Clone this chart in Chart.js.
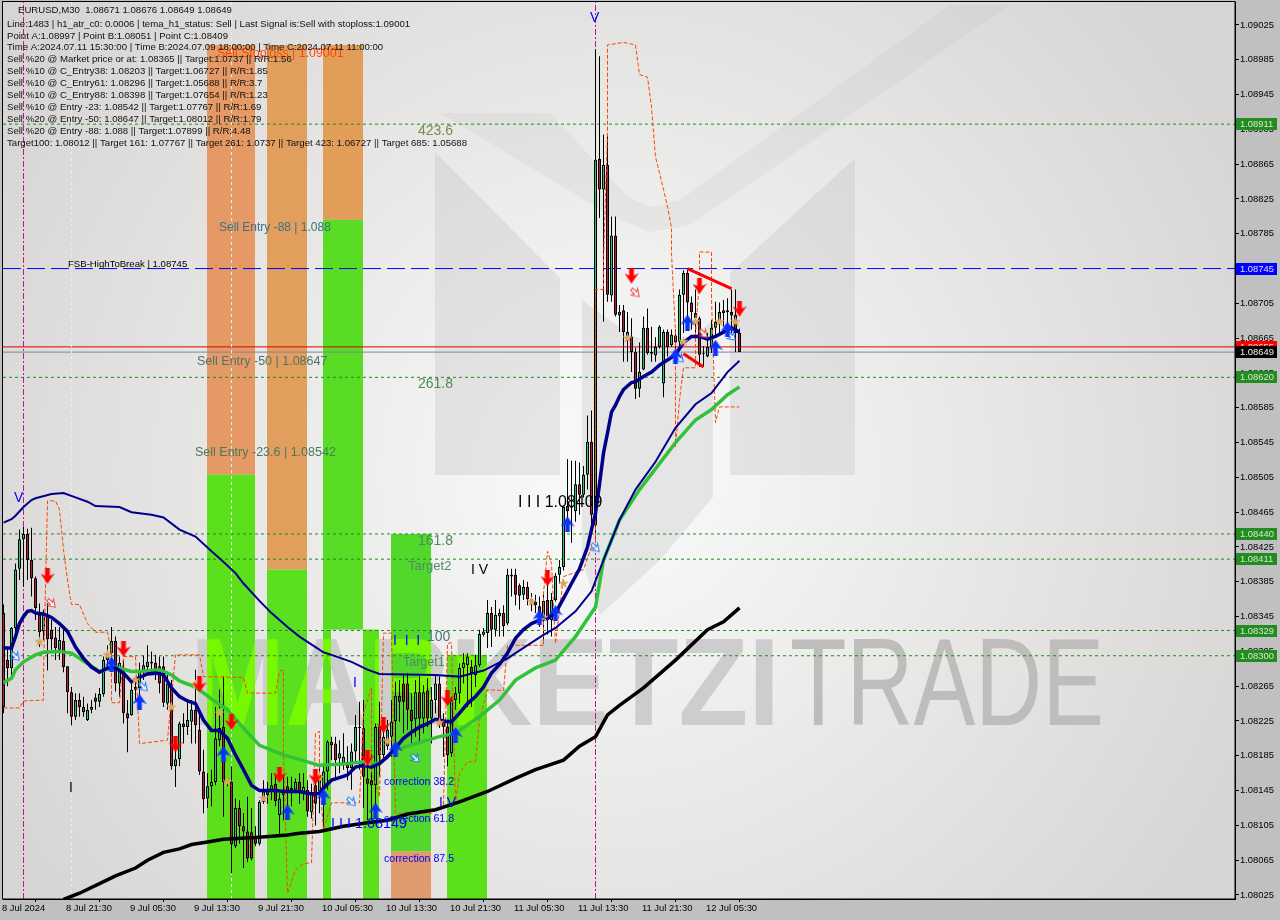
<!DOCTYPE html>
<html>
<head>
<meta charset="utf-8">
<title>EURUSD,M30</title>
<script src="https://cdn.jsdelivr.net/npm/chart.js@4/dist/chart.umd.min.js"></script>
<style>
  html, body { margin: 0; padding: 0; background: #c0c0c0; }
  canvas { display: block; }
</style>
</head>
<body>
<canvas id="myChart" width="1280" height="920"></canvas>
<script>
// Bougies M30
const opens = [
  1.08349,1.08295,1.08286,1.08332,1.08400,1.08434,1.08440,1.08410,1.08389,1.08347,
  1.08328,1.08347,1.08330,1.08321,1.08307,1.08317,1.08288,1.08258,1.08230,1.08249,
  1.08241,1.08226,1.08238,1.08252,1.08247,1.08256,1.08295,1.08303,1.08317,1.08268,
  1.08282,1.08234,1.08232,1.08264,1.08263,1.08280,1.08287,1.08293,1.08292,1.08288,
  1.08288,1.08245,1.08268,1.08173,1.08181,1.08222,1.08218,1.08224,1.08238,1.08215,
  1.08167,1.08136,1.08150,1.08155,1.08203,1.08218,1.08155,1.08155,1.08081,1.08125,
  1.08104,1.08098,1.08097,1.08091,1.08084,1.08132,1.08146,1.08146,1.08153,1.08117,
  1.08144,1.08150,1.08148,1.08146,1.08155,1.08142,1.08146,1.08120,1.08151,1.08144,
  1.08146,1.08167,1.08201,1.08199,1.08182,1.08176,1.08178,1.08171,1.08190,1.08218,
  1.08217,1.08159,1.08157,1.08151,1.08218,1.08186,1.08196,1.08207,1.08225,1.08254,
  1.08268,1.08268,1.08238,1.08227,1.08258,1.08228,1.08260,1.08228,1.08249,1.08268,
  1.08224,1.08218,1.08188,1.08249,1.08257,1.08286,1.08289,1.08287,1.08278,1.08289,
  1.08324,1.08326,1.08349,1.08330,1.08345,1.08349,1.08337,1.08391,1.08393,1.08381,
  1.08370,1.08379,1.08365,1.08362,1.08357,1.08341,1.08364,1.08341,1.08364,1.08393,
  1.08402,1.08472,1.08470,1.08466,1.08497,1.08485,1.08508,1.08546,1.08450,1.08871,
  1.08836,1.08864,1.08714,1.08783,1.08691,1.08697,1.08672,1.08667,1.08649,1.08607,
  1.08629,1.08677,1.08649,1.08645,1.08655,1.08613,1.08672,1.08657,1.08668,1.08661,
  1.08715,1.08740,1.08706,1.08694,1.08688,1.08647,1.08644,1.08655,1.08677,1.08684,
  1.08697,1.08697,1.08695,1.08692,1.08671];
const highs = [
  1.08359,1.08310,1.08333,1.08406,1.08445,1.08448,1.08446,1.08447,1.08391,1.08360,
  1.08353,1.08360,1.08341,1.08333,1.08333,1.08330,1.08288,1.08264,1.08257,1.08257,
  1.08253,1.08245,1.08249,1.08257,1.08263,1.08299,1.08312,1.08333,1.08322,1.08299,
  1.08295,1.08249,1.08268,1.08274,1.08292,1.08300,1.08312,1.08305,1.08301,1.08299,
  1.08299,1.08282,1.08272,1.08199,1.08224,1.08234,1.08249,1.08249,1.08284,1.08238,
  1.08192,1.08165,1.08169,1.08241,1.08261,1.08276,1.08160,1.08173,1.08136,1.08134,
  1.08119,1.08138,1.08125,1.08104,1.08134,1.08157,1.08155,1.08165,1.08165,1.08142,
  1.08165,1.08161,1.08161,1.08159,1.08165,1.08165,1.08157,1.08153,1.08165,1.08174,
  1.08173,1.08203,1.08207,1.08207,1.08203,1.08211,1.08196,1.08199,1.08232,1.08247,
  1.08249,1.08173,1.08192,1.08222,1.08247,1.08226,1.08226,1.08249,1.08270,1.08272,
  1.08278,1.08280,1.08257,1.08272,1.08276,1.08266,1.08274,1.08264,1.08278,1.08276,
  1.08234,1.08226,1.08253,1.08264,1.08291,1.08303,1.08303,1.08295,1.08301,1.08330,
  1.08332,1.08364,1.08356,1.08364,1.08354,1.08358,1.08400,1.08400,1.08400,1.08383,
  1.08387,1.08385,1.08372,1.08370,1.08368,1.08370,1.08387,1.08372,1.08395,1.08410,
  1.08473,1.08526,1.08524,1.08524,1.08522,1.08518,1.08576,1.08582,1.08997,1.08989,
  1.08899,1.08897,1.08805,1.08805,1.08703,1.08703,1.08695,1.08688,1.08654,1.08660,
  1.08690,1.08699,1.08678,1.08666,1.08680,1.08675,1.08675,1.08675,1.08675,1.08721,
  1.08743,1.08745,1.08713,1.08721,1.08690,1.08656,1.08671,1.08686,1.08707,1.08706,
  1.08709,1.08711,1.08721,1.08721,1.08676];
const lows = [
  1.08234,1.08265,1.08276,1.08318,1.08387,1.08379,1.08387,1.08368,1.08341,1.08310,
  1.08318,1.08283,1.08307,1.08295,1.08295,1.08281,1.08234,1.08220,1.08226,1.08230,
  1.08230,1.08225,1.08234,1.08238,1.08241,1.08253,1.08284,1.08287,1.08259,1.08253,
  1.08222,1.08189,1.08231,1.08249,1.08253,1.08272,1.08278,1.08280,1.08272,1.08257,
  1.08241,1.08238,1.08169,1.08149,1.08173,1.08199,1.08209,1.08199,1.08199,1.08163,
  1.08119,1.08125,1.08127,1.08151,1.08196,1.08115,1.08150,1.08050,1.08079,1.08084,
  1.08056,1.08063,1.08065,1.08081,1.08082,1.08130,1.08130,1.08134,1.08127,1.08092,
  1.08111,1.08119,1.08127,1.08142,1.08130,1.08134,1.08115,1.08113,1.08105,1.08119,
  1.08100,1.08146,1.08180,1.08157,1.08165,1.08169,1.08157,1.08146,1.08176,1.08169,
  1.08125,1.08111,1.08111,1.08127,1.08161,1.08180,1.08192,1.08184,1.08196,1.08224,
  1.08211,1.08215,1.08199,1.08207,1.08201,1.08211,1.08218,1.08199,1.08234,1.08217,
  1.08184,1.08173,1.08184,1.08238,1.08245,1.08268,1.08241,1.08241,1.08264,1.08287,
  1.08322,1.08309,1.08310,1.08322,1.08322,1.08322,1.08335,1.08368,1.08358,1.08353,
  1.08364,1.08358,1.08351,1.08349,1.08333,1.08314,1.08324,1.08322,1.08362,1.08383,
  1.08398,1.08455,1.08430,1.08454,1.08462,1.08482,1.08491,1.08443,1.08440,1.08803,
  1.08684,1.08707,1.08707,1.08690,1.08672,1.08638,1.08638,1.08626,1.08595,1.08597,
  1.08628,1.08646,1.08638,1.08638,1.08653,1.08597,1.08644,1.08655,1.08648,1.08652,
  1.08671,1.08690,1.08675,1.08671,1.08632,1.08632,1.08643,1.08648,1.08667,1.08671,
  1.08678,1.08680,1.08671,1.08649,1.08649];
const closes = [
  1.08241,1.08286,1.08332,1.08399,1.08434,1.08440,1.08410,1.08389,1.08355,1.08327,
  1.08347,1.08319,1.08319,1.08309,1.08318,1.08287,1.08258,1.08230,1.08249,1.08241,
  1.08235,1.08238,1.08241,1.08247,1.08256,1.08295,1.08303,1.08317,1.08268,1.08292,
  1.08234,1.08228,1.08261,1.08261,1.08284,1.08289,1.08293,1.08291,1.08281,1.08268,
  1.08246,1.08268,1.08173,1.08181,1.08222,1.08218,1.08226,1.08238,1.08220,1.08167,
  1.08135,1.08150,1.08155,1.08205,1.08217,1.08155,1.08153,1.08083,1.08125,1.08104,
  1.08098,1.08067,1.08067,1.08084,1.08132,1.08144,1.08140,1.08151,1.08133,1.08136,
  1.08140,1.08144,1.08142,1.08155,1.08142,1.08149,1.08121,1.08142,1.08130,1.08163,
  1.08167,1.08201,1.08197,1.08180,1.08188,1.08184,1.08171,1.08190,1.08218,1.08217,
  1.08161,1.08153,1.08151,1.08218,1.08186,1.08207,1.08215,1.08224,1.08254,1.08247,
  1.08247,1.08238,1.08225,1.08258,1.08228,1.08258,1.08228,1.08249,1.08268,1.08225,
  1.08218,1.08186,1.08249,1.08257,1.08286,1.08292,1.08299,1.08280,1.08289,1.08325,
  1.08328,1.08349,1.08330,1.08347,1.08349,1.08334,1.08393,1.08393,1.08370,1.08369,
  1.08379,1.08365,1.08362,1.08358,1.08349,1.08363,1.08341,1.08364,1.08392,1.08402,
  1.08471,1.08466,1.08472,1.08497,1.08485,1.08508,1.08546,1.08462,1.08870,1.08836,
  1.08864,1.08715,1.08783,1.08692,1.08695,1.08672,1.08667,1.08649,1.08607,1.08626,
  1.08677,1.08648,1.08647,1.08655,1.08678,1.08672,1.08655,1.08669,1.08660,1.08715,
  1.08740,1.08706,1.08695,1.08688,1.08646,1.08648,1.08655,1.08677,1.08684,1.08695,
  1.08694,1.08695,1.08691,1.08671,1.08649];

// Moyennes mobiles
const navyFastIdx = [0,2,3,4,5,6,7,8,10,12,14,16,18,20,22,24,26,28,30,32,34,36,38,40,42,44,46,48,50,52,54,56,58,60,62,64,66,68,70,72,74,76,78,79,80,82,84,86,88,90,92,94,96,98,100,102,104,106,108,110,112,114,116,118,120,122,124,126,128,130,132,134,136,138,140,142,144,146,147,148,149,150,151,152,153,154,155,156,157,158,160,162,164,166,168,170,172,174,176,178,180,182,184];
const navyFast = [1.08309,1.08309,1.08322,1.08337,1.08345,1.08351,1.08352,1.08349,1.08348,1.08344,1.08337,1.08328,1.08310,1.08297,1.08287,1.08281,1.08286,1.08286,1.08280,1.08270,1.08275,1.08279,1.08280,1.08278,1.08263,1.08253,1.08248,1.08245,1.08226,1.08214,1.08214,1.08205,1.08186,1.08169,1.08151,1.08145,1.08145,1.08145,1.08144,1.08144,1.08144,1.08142,1.08141,1.08142,1.08148,1.08157,1.08160,1.08163,1.08172,1.08174,1.08172,1.08176,1.08184,1.08194,1.08205,1.08212,1.08218,1.08222,1.08227,1.08225,1.08224,1.08234,1.08245,1.08253,1.08264,1.08280,1.08290,1.08303,1.08320,1.08330,1.08337,1.08341,1.08343,1.08349,1.08366,1.08383,1.08400,1.08425,1.08445,1.08464,1.08497,1.08533,1.08556,1.08580,1.08588,1.08598,1.08606,1.08610,1.08614,1.08615,1.08621,1.08626,1.08634,1.08640,1.08646,1.08660,1.08667,1.08667,1.08664,1.08667,1.08672,1.08677,1.08672];
const navySlowIdx = [0,2,3,5,7,8,12,15,18,21,23,29,32,37,40,44,48,52,54,58,60,64,67,71,74,80,82,87,91,94,108,114,120,126,130,135,138,143,147,150,154,158,163,168,173,177,181,184];
const navySlow = [1.08453,1.08457,1.08461,1.08471,1.08479,1.08481,1.08486,1.08487,1.08482,1.08477,1.08472,1.08471,1.08465,1.08462,1.08459,1.08445,1.08437,1.08420,1.08412,1.08395,1.08383,1.08363,1.08349,1.08333,1.08322,1.08304,1.08301,1.08293,1.08284,1.08279,1.08278,1.08276,1.08283,1.08297,1.08309,1.08324,1.08332,1.08351,1.08374,1.08410,1.08456,1.08491,1.08523,1.08562,1.08589,1.08602,1.08626,1.08639];
const greenIdx = [0,2,3,5,8,10,14,17,20,24,28,32,34,39,42,44,48,53,56,59,64,70,76,79,86,90,94,98,103,109,113,119,124,128,133,138,143,148,150,154,159,168,173,177,181,184];
const greenLine = [1.08269,1.08274,1.08284,1.08293,1.08301,1.08304,1.08305,1.08303,1.08294,1.08282,1.08287,1.08282,1.08282,1.08284,1.08278,1.08271,1.08264,1.08247,1.08238,1.08222,1.08197,1.08186,1.08178,1.08174,1.08176,1.08178,1.08176,1.08192,1.08199,1.08207,1.08211,1.08230,1.08249,1.08272,1.08286,1.08295,1.08322,1.08356,1.08410,1.08456,1.08491,1.08545,1.08571,1.08583,1.08600,1.08609];
const blackIdx = [15,19,24,28,33,36,40,44,47,51,55,63,71,74,79,85,91,96,101,108,114,121,128,133,140,144,148,151,154,160,168,176,180,184];
const blackLine = [1.08020,1.08027,1.08038,1.08047,1.08056,1.08065,1.08074,1.08078,1.08083,1.08086,1.08089,1.08091,1.08094,1.08096,1.08098,1.08104,1.08108,1.08111,1.08118,1.08123,1.08132,1.08144,1.08159,1.08169,1.08180,1.08196,1.08207,1.08232,1.08243,1.08263,1.08295,1.08330,1.08339,1.08355];
const stopIdx = [0,4,5,10,10,11,13,14,15,16,17,19,21,23,26,27,27,29,30,33,34,41,42,43,49,50,60,61,68,69,70,70,71,73,75,77,78,79,79,80,82,89,90,92,92,94,95,97,98,107,110,111,112,113,114,116,118,119,121,125,126,135,135,136,137,138,140,145,147,148,148,150,150,151,151,155,158,159,161,162,163,164,165,166,167,167,168,168,169,170,173,173,174,174,177,177,178,179,184];
const stopLine = [1.08240,1.08240,1.08248,1.08249,1.08280,1.08478,1.08478,1.08468,1.08422,1.08387,1.08359,1.08359,1.08337,1.08327,1.08327,1.08303,1.08246,1.08246,1.08299,1.08299,1.08199,1.08203,1.08253,1.08301,1.08301,1.08276,1.08275,1.08257,1.08257,1.08282,1.08284,1.08188,1.08027,1.08054,1.08061,1.08062,1.08211,1.08213,1.08161,1.08100,1.08131,1.08131,1.08234,1.08263,1.08165,1.08138,1.08326,1.08326,1.08119,1.08119,1.08128,1.08314,1.08315,1.08130,1.08165,1.08178,1.08178,1.08226,1.08261,1.08260,1.08312,1.08312,1.08372,1.08420,1.08406,1.08314,1.08391,1.08399,1.08425,1.08425,1.08721,1.08721,1.08755,1.08901,1.09002,1.09005,1.09002,1.08968,1.08965,1.08931,1.08873,1.08855,1.08836,1.08816,1.08792,1.08763,1.08671,1.08540,1.08594,1.08631,1.08631,1.08671,1.08732,1.08764,1.08764,1.08709,1.08568,1.08586,1.08586];

// Signaux
const sellIdx = [11,30,43,49,57,69,78,91,95,111,136,157,174,184];
const sellPrice = [1.08392,1.08308,1.08198,1.08267,1.08224,1.08163,1.08161,1.08183,1.08220,1.08251,1.08389,1.08737,1.08725,1.08699];
const buyIdx = [27,34,55,71,80,93,98,113,134,138,141,168,171,178,181];
const buyPrice = [1.08290,1.08247,1.08187,1.08120,1.08138,1.08122,1.08193,1.08209,1.08344,1.08349,1.08451,1.08644,1.08683,1.08654,1.08675];
const starIdx = [9,26,33,42,48,54,56,65,69,79,91,96,109,132,135,140,156,170,173,179,183];
const starPrice = [1.08316,1.08301,1.08272,1.08241,1.08267,1.08234,1.08155,1.08136,1.08163,1.08160,1.08178,1.08202,1.08223,1.08362,1.08344,1.08383,1.08665,1.08661,1.08684,1.08684,1.08684];
const hollowSellIdx = [12,158,175];
const hollowSellPrice = [1.08360,1.08717,1.08670];
const hollowBuyIdx = [3,35,87,103,148,169,182];
const hollowBuyPrice = [1.08299,1.08264,1.08132,1.08182,1.08424,1.08642,1.08667];

// Niveaux horizontaux
const greenLevels = [1.08911,1.08620,1.08440,1.08411,1.08329,1.08300];
const breakLevel = 1.08745;
const stopLevel = 1.08655;
const bidLevel = 1.08649;
const wedgeUpIdx = [171,182];
const wedgeUpPrice = [1.08745,1.08722];
const wedgeLowIdx = [170,175];
const wedgeLowPrice = [1.08647,1.08632];
const magentaVerticals = [5,148];
const paleVerticals = [17,57];

// Zones colorées: debut, fin, haut, bas
const zoneStart = [51,51,66,66,80,80,80,90,97,97,111];
const zoneEnd = [63,63,76,76,90,90,82,94,107,107,121];
const zoneTop = [1.09002,1.08508,1.09002,1.08399,1.09002,1.08801,1.08330,1.08330,1.08440,1.08075,1.08301];
const zoneBottom = [1.08508,1.08020,1.08399,1.08020,1.08801,1.08330,1.08020,1.08020,1.08075,1.08020,1.08020];
const zoneColor = ['#e59a66','#5ce01c','#e29e5c','#5ae01e','#e29d58','#58dc24','#5ce01c','#5ce01c','#52d82a','#e09a6c','#5ce01c'];

const xTickIdx = [0,16,32,48,64,80,96,112,128,144,160,176];
const xTickLabels = ['8 Jul 2024','8 Jul 21:30','9 Jul 05:30','9 Jul 13:30','9 Jul 21:30','10 Jul 05:30','10 Jul 13:30','10 Jul 21:30','11 Jul 05:30','11 Jul 13:30','11 Jul 21:30','12 Jul 05:30'];
const yTicks = [1.09025,1.08985,1.08945,1.08905,1.08865,1.08825,1.08785,1.08745,1.08705,1.08665,1.08625,1.08585,1.08545,1.08505,1.08465,1.08425,1.08385,1.08345,1.08305,1.08265,1.08225,1.08185,1.08145,1.08105,1.08065,1.08025];

const headerLines = [
  'Line:1483 | h1_atr_c0: 0.0006 | tema_h1_status: Sell | Last Signal is:Sell with stoploss:1.09001',
  'Point A:1.08997 | Point B:1.08051 | Point C:1.08409',
  'Time A:2024.07.11 15:30:00 | Time B:2024.07.09 18:00:00 | Time C:2024.07.11 11:00:00',
  'Sell %20 @ Market price or at: 1.08365 || Target:1.0737 || R/R:1.56',
  'Sell %10 @ C_Entry38: 1.08203 || Target:1.06727 || R/R:1.85',
  'Sell %10 @ C_Entry61: 1.08296 || Target:1.05688 || R/R:3.7',
  'Sell %10 @ C_Entry88: 1.08398 || Target:1.07654 || R/R:1.23',
  'Sell %10 @ Entry -23: 1.08542 || Target:1.07767 || R/R:1.69',
  'Sell %20 @ Entry -50: 1.08647 || Target:1.08012 || R/R:1.79',
  'Sell %20 @ Entry -88: 1.088 || Target:1.07899 || R/R:4.48',
  'Target100: 1.08012 || Target 161: 1.07767 || Target 261: 1.0737 || Target 423: 1.06727 || Target 685: 1.05688'
];

// Textes posés sur le graphique: texte, x, y, couleur, taille
const chartTexts = [
  ['Sell Stoploss | 1.09001',217,54,'#ff4500',12.4],
  ['423.6',418,131,'#7d8a4a',14],
  ['Sell Entry -88 | 1.088',219,228,'#3d7080',12],
  ['Sell Entry -50 | 1.08647',197,362,'#55706a',12.5],
  ['261.8',418,384,'#4f8a55',14],
  ['Sell Entry -23.6 | 1.08542',195,453,'#4a7a60',12.5],
  ['I I I 1.08409',518,503,'#000000',16],
  ['161.8',418,541,'#4a8a5a',14],
  ['Target2',408,566,'#4f8a6a',13],
  ['I V',471,570,'#000000',14],
  ['I  I  I',393,641,'#0000ff',14],
  ['100',427,637,'#4a7a7a',14],
  ['Target1',403,663,'#4a8a60',12.5],
  ['I',353,683,'#0000ff',14],
  ['I',69,788,'#000000',14],
  ['correction 38.2',384,782,'#0000ff',10.6],
  ['correction 61.8',384,819,'#0000ff',10.6],
  ['correction 87.5',384,859,'#0000ff',10.6],
  ['I I I 1.08149',331,824,'#0000ff',14.4],
  ['I V',439,803,'#0000ff',14],
  ['V',590,18,'#0000ff',14],
  ['V',14,498,'#0000ff',14]
];

const uiFont = '"Liberation Sans", sans-serif';
const bgCorner = '#d6d5d3';

function pts(xs, ys) {
  return xs.map((x, k) => ({ x: x, y: ys[k] }));
}

function makeMarker(w, h, draw) {
  const c = document.createElement('canvas');
  c.width = w;
  c.height = h;
  draw(c.getContext('2d'));
  return c;
}

function blockArrow(ctx) {
  ctx.beginPath();
  ctx.moveTo(4, 0); ctx.lineTo(8, 0); ctx.lineTo(8, 7); ctx.lineTo(12, 5);
  ctx.lineTo(6, 14); ctx.lineTo(0, 5); ctx.lineTo(4, 7);
  ctx.closePath();
}

const sellMarker = makeMarker(14, 16, ctx => {
  ctx.scale(14 / 12, 16 / 14);
  ctx.fillStyle = '#ff0000';
  blockArrow(ctx);
  ctx.fill();
});
const buyMarker = makeMarker(14, 16, ctx => {
  ctx.translate(14, 16);
  ctx.rotate(Math.PI);
  ctx.scale(14 / 12, 16 / 14);
  ctx.fillStyle = '#0a32ff';
  blockArrow(ctx);
  ctx.fill();
});
const starMarker = makeMarker(11, 11, ctx => {
  ctx.fillStyle = '#d9a860';
  ctx.beginPath();
  for (let k = 0; k < 10; k++) {
    const r = k % 2 ? 2.2 : 5.5;
    const a = -Math.PI / 2 + k * Math.PI / 5;
    ctx.lineTo(5.5 + r * Math.cos(a), 5.5 + r * Math.sin(a));
  }
  ctx.closePath();
  ctx.fill();
});
function hollowMarker(color, angle) {
  return makeMarker(13, 13, ctx => {
    ctx.translate(6.5, 6.5);
    ctx.rotate(angle);
    ctx.scale(0.75, 0.75);
    ctx.translate(-6, -7);
    ctx.fillStyle = 'rgba(255,255,255,0.75)';
    ctx.strokeStyle = color;
    ctx.lineWidth = 1.3;
    blockArrow(ctx);
    ctx.fill();
    ctx.stroke();
  });
}

function lineSet(data, color, width, order, dash) {
  return {
    type: 'line', data: data, borderColor: color, borderWidth: width, order: order,
    borderDash: dash || [], pointRadius: 0, pointHoverRadius: 0, pointBorderWidth: 0, tension: 0, fill: false
  };
}
// rayon et rayon de survol petits: Chart.js en deduit une marge autour de la zone de trace
function markerSet(xs, ys, marker, order) {
  return {
    type: 'line', data: pts(xs, ys), showLine: false, pointStyle: marker,
    pointRadius: 1, pointHoverRadius: 0, pointBorderWidth: 0, order: order
  };
}

// Filigrane MARKETZI TRADE et grand M
function drawWord(ctx, boldColor, thinColor) {
  ctx.textAlign = 'left';
  ctx.textBaseline = 'alphabetic';
  ctx.fillStyle = boldColor;
  ctx.font = 'bold 124px ' + uiFont;
  ctx.fillText('MARKETZI', 190, 725, 590);
  ctx.fillStyle = thinColor;
  ctx.font = '124px ' + uiFont;
  ctx.fillText('TRADE', 790, 725, 314);
}

function poly(ctx, color, list) {
  ctx.fillStyle = color;
  ctx.beginPath();
  list.forEach(p => ctx.lineTo(p[0], p[1]));
  ctx.closePath();
  ctx.fill();
}

const backdrop = {
  id: 'backdrop',
  beforeDatasetsDraw(chart) {
    const { ctx, chartArea: a, scales: { x, y } } = chart;
    ctx.save();
    ctx.beginPath();
    ctx.rect(a.left, a.top, a.width, a.height);
    ctx.clip();
    const g = ctx.createRadialGradient(610, 470, 80, 610, 470, 720);
    g.addColorStop(0, '#f7f7f7');
    g.addColorStop(1, bgCorner);
    ctx.fillStyle = g;
    ctx.fillRect(a.left, a.top, a.width, a.height);
    // grand M
    const mGrey = 'rgba(190,190,190,0.3)';
    poly(ctx, 'rgba(190,190,190,0.18)', [[440,113],[550,113],[628,197],[650,207],[680,200],[950,5],[1010,5],[690,225],[650,232],[610,215]]);
    poly(ctx, mGrey, [[435,152],[560,278],[560,475],[435,475]]);
    poly(ctx, mGrey, [[582,300],[630,335],[660,345],[690,340],[713,320],[713,497],[660,560],[600,615],[582,560]]);
    poly(ctx, mGrey, [[730,273],[855,158],[855,475],[730,475]]);
    drawWord(ctx, '#cdcdcd', '#bdbdbb');
    // zones
    zoneStart.forEach((s, k) => {
      const left = Math.floor(x.getPixelForValue(s));
      const right = Math.floor(x.getPixelForValue(zoneEnd[k]));
      const top = y.getPixelForValue(zoneTop[k]);
      const bottom = y.getPixelForValue(zoneBottom[k]);
      ctx.fillStyle = zoneColor[k];
      ctx.fillRect(left, top, right - left, bottom - top);
      if (zoneColor[k][1] === '5') {
        ctx.save();
        ctx.beginPath();
        ctx.rect(left, top, right - left, bottom - top);
        ctx.clip();
        drawWord(ctx, '#78f800', '#78f800');
        ctx.restore();
      }
    });
    ctx.restore();
  }
};

const overlay = {
  id: 'overlay',
  afterDatasetsDraw(chart) {
    const { ctx, chartArea: a } = chart;
    ctx.save();
    ctx.textAlign = 'left';
    ctx.textBaseline = 'middle';
    chartTexts.forEach(t => {
      ctx.font = t[4] + 'px ' + uiFont;
      ctx.fillStyle = t[3];
      ctx.fillText(t[0], t[1], t[2]);
    });
    ctx.font = '9.6px ' + uiFont;
    ctx.fillStyle = '#000';
    ctx.fillText('FSB-HighToBreak | 1.08745', 68, 264);
    ctx.fillStyle = '#111';
    ctx.fillText('EURUSD,M30  1.08671 1.08676 1.08649 1.08649', 18, 10.5);
    headerLines.forEach((l, k) => ctx.fillText(l, 7, 24 + k * 11.9));
    ctx.strokeStyle = '#000';
    ctx.lineWidth = 1;
    ctx.strokeRect(a.left - 0.5, a.top - 0.5, a.width + 0.5, a.height + 0.5);
    ctx.restore();
  },
  afterDraw(chart) {
    const { ctx, scales: { y } } = chart;
    const boxes = greenLevels.map(v => [v, '#228b22', '#d8e8c8']);
    boxes.push([breakLevel, '#0000ff', '#e0e0ff'], [stopLevel, '#ff0000', '#ffd0d0'], [bidLevel, '#000000', '#f0f0f0']);
    ctx.save();
    ctx.font = '9.4px ' + uiFont;
    ctx.textAlign = 'left';
    ctx.textBaseline = 'middle';
    boxes.forEach(b => {
      const py = Math.round(y.getPixelForValue(b[0]));
      ctx.fillStyle = b[1];
      ctx.fillRect(1236, py - 6, 41, 12);
      ctx.fillStyle = b[2];
      ctx.fillText(b[0].toFixed(5), 1240, py);
    });
    ctx.restore();
  }
};

const xMin = -0.125, xMax = 307.875, yMin = 1.080204, yMax = 1.090514;
const flatLine = v => [{ x: xMin, y: v }, { x: xMax, y: v }];
const uprightLine = i => [{ x: i, y: yMin }, { x: i, y: yMax }];
const candleIdx = opens.map((_, k) => k);

function noAxisPadding(s) {
  s.paddingLeft = 0;
  s.paddingRight = 0;
  s.paddingTop = 0;
  s.paddingBottom = 0;
}

const datasets = [
  ...greenLevels.map(v => lineSet(flatLine(v), '#228b22', 1, 20, [3, 3])),
  lineSet(flatLine(breakLevel), '#0000ff', 1, 20, [18, 6]),
  lineSet(flatLine(stopLevel), '#e00000', 1, 20),
  lineSet(flatLine(bidLevel), '#778899', 1, 20),
  ...magentaVerticals.map(i => lineSet(uprightLine(i), '#c71585', 1, 19, [6, 2, 2, 2])),
  ...paleVerticals.map(i => lineSet(uprightLine(i), '#d8f4f4', 1, 19, [3, 3])),
  {
    type: 'bar', data: candleIdx.map(i => ({ x: i, y: [lows[i], highs[i]] })),
    backgroundColor: '#000', barThickness: 1, grouped: false, order: 12, inflateAmount: 0
  },
  {
    type: 'bar', data: candleIdx.map(i => ({ x: i, y: [opens[i], closes[i]] })),
    backgroundColor: candleIdx.map(i => closes[i] >= opens[i] ? '#20c878' : '#b71c3a'),
    borderColor: '#000', borderWidth: 1, borderSkipped: false,
    barThickness: 3, grouped: false, order: 11, inflateAmount: 0
  },
  lineSet(pts(stopIdx, stopLine), '#ff4500', 1, 10, [4, 2]),
  lineSet(pts(blackIdx, blackLine), '#000000', 3.5, 9),
  lineSet(pts(greenIdx, greenLine), '#32c23a', 3.5, 8),
  lineSet(pts(navySlowIdx, navySlow), '#00008b', 2, 7),
  lineSet(pts(navyFastIdx, navyFast), '#00008b', 3.5, 6),
  lineSet(pts(wedgeUpIdx, wedgeUpPrice), '#ff0000', 3, 5),
  lineSet(pts(wedgeLowIdx, wedgeLowPrice), '#ff0000', 3, 5),
  markerSet(starIdx, starPrice, starMarker, 4),
  markerSet(hollowSellIdx, hollowSellPrice, hollowMarker('#e8453c', Math.PI * -0.25), 3),
  markerSet(hollowBuyIdx, hollowBuyPrice, hollowMarker('#1e78ff', Math.PI * 0.75 + Math.PI), 3),
  markerSet(sellIdx, sellPrice, sellMarker, 2),
  markerSet(buyIdx, buyPrice, buyMarker, 2)
];

new Chart(document.getElementById('myChart').getContext('2d'), {
  type: 'bar',
  data: { datasets: datasets },
  plugins: [backdrop, overlay],
  options: {
    responsive: false,
    animation: false,
    events: [],
    layout: { padding: { left: 3, top: 2, right: 0, bottom: 0 } },
    plugins: { legend: { display: false }, tooltip: { enabled: false } },
    scales: {
      x: {
        type: 'linear', min: xMin, max: xMax, offset: false,
        afterFit: s => { s.height = 21; noAxisPadding(s); },
        afterBuildTicks: s => { s.ticks = xTickIdx.map(v => ({ value: v })); },
        grid: { drawOnChartArea: false, drawTicks: true, tickLength: 3, color: '#000' },
        border: { color: '#000' },
        ticks: {
          autoSkip: false, maxRotation: 0, align: 'start', padding: 1, color: '#000', labelOffset: -1.5,
          font: { family: uiFont, size: 9.4 },
          callback: (v, k) => xTickLabels[k]
        }
      },
      y: {
        position: 'right', min: yMin, max: yMax,
        afterFit: s => { s.width = 45; noAxisPadding(s); },
        afterBuildTicks: s => { s.ticks = yTicks.map(v => ({ value: v })); },
        grid: { drawOnChartArea: false, drawTicks: true, tickLength: 4, color: '#000' },
        border: { color: '#000' },
        ticks: {
          autoSkip: false, padding: 1, color: '#000', crossAlign: 'near',
          font: { family: uiFont, size: 9.4 },
          callback: v => v.toFixed(5)
        }
      }
    }
  }
});
</script>
</body>
</html>
